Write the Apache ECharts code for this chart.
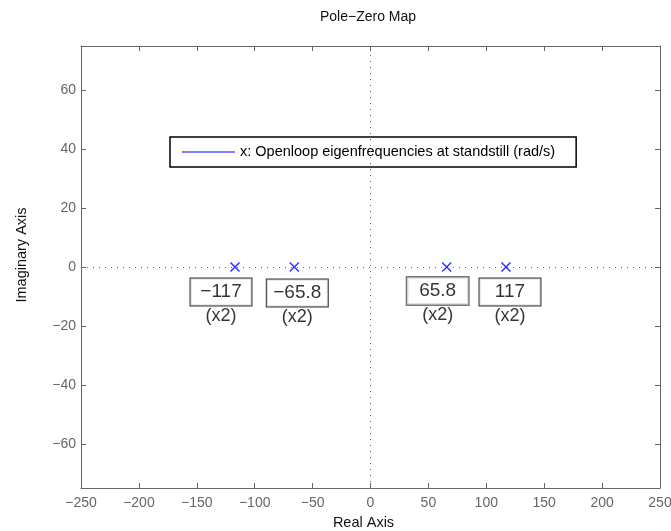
<!DOCTYPE html>
<html>
<head>
<meta charset="utf-8">
<script src="https://cdn.jsdelivr.net/npm/echarts@6/dist/echarts.min.js"></script>
<style>
  html, body { margin: 0; padding: 0; background: #fff; }
  #chart { width: 671px; height: 531px; }
</style>
</head>
<body>
<div id="chart"></div>
<script>
// poles (real, imag) and datatip text
const poleReal = [-117, -65.8, 65.8, 117];
const poleImag = [0, 0, 0, 0];
const poleText = ['−117', '−65.8', '65.8', '117'];
const poleMult = ['(x2)', '(x2)', '(x2)', '(x2)'];
const legendName = 'x: Openloop eigenfrequencies at standstill (rad/s)';
const yTicks = [-60, -40, -20, 0, 20, 40, 60];

// datatip placement (pixels from the marker), as placed in the figure
const tipOffsets = [[-14, 36], [3, 37], [-9, 35], [4, 36]];

const minus = v => String(v).replace('-', '−');
const FONT = 'Liberation Sans, Arial, sans-serif';

const chart = echarts.init(document.getElementById('chart'));

const poleData = poleReal.map((x, i) => ({
    value: [x, poleImag[i]],
    label: {
        show: true,
        position: 'inside',
        offset: tipOffsets[i],
        formatter: '{box|' + poleText[i] + '}\n{mult|' + poleMult[i] + '}',
        rich: {
            box: {
                fontFamily: FONT, fontSize: 19, color: '#000',
                borderColor: i === 2 ? '#555' : '#000', borderWidth: i === 2 ? 1.5 : 1,
                width: 61, height: 27, lineHeight: 27, align: 'center',
                backgroundColor: '#fff'
            },
            mult: {
                fontFamily: FONT, fontSize: 18, color: '#000',
                lineHeight: 22, align: 'center'
            }
        }
    }
}));

chart.setOption({
    animation: false,
    title: {
        text: 'Pole−Zero Map',
        left: 363,
        textAlign: 'center',
        top: 5,
        textStyle: {fontFamily: FONT, fontSize: 14, fontWeight: 'normal', color: '#111'}
    },
    grid: {left: 81, right: 11, top: 46, bottom: 43, outerBoundsMode: 'none', containLabel: false},
    legend: {
        data: [{name: legendName, itemStyle: {color: '#0000ff'}}],
        left: 170,
        top: 137,
        orient: 'horizontal',
        icon: 'rect',
        itemWidth: 53,
        itemHeight: 1,
        padding: [7, 21, 7, 12],
        borderColor: '#000',
        borderWidth: 1.5,
        backgroundColor: '#fff',
        selectedMode: false,
        textStyle: {fontFamily: FONT, fontSize: 14.5, color: '#000', lineHeight: 16}
    },
    xAxis: [{
        type: 'value',
        min: -250, max: 250, interval: 50,
        name: 'Real Axis',
        nameLocation: 'middle',
        nameGap: 27,
        nameTextStyle: {fontFamily: FONT, fontSize: 14.5, color: '#111', padding: [0, 14, 0, 0]},
        axisLine: {onZero: false, lineStyle: {color: '#666', width: 1}},
        axisTick: {inside: true, length: 5, lineStyle: {color: '#666'}},
        axisLabel: {fontFamily: FONT, fontSize: 14, color: '#666', margin: 8, formatter: minus},
        splitLine: {show: false}
    }, {
        type: 'value',
        position: 'top',
        min: -250, max: 250, interval: 50,
        axisLine: {onZero: false, lineStyle: {color: '#666', width: 1}},
        axisTick: {inside: true, length: 5, lineStyle: {color: '#666'}},
        axisLabel: {show: false},
        splitLine: {show: false}
    }],
    yAxis: [{
        type: 'value',
        min: -75, max: 75,
        name: 'Imaginary Axis',
        nameLocation: 'middle',
        nameGap: 52,
        nameTextStyle: {fontFamily: FONT, fontSize: 14.5, color: '#111', padding: [0, 0, 0, 24]},
        axisLine: {onZero: false, lineStyle: {color: '#666', width: 1}},
        axisTick: {inside: true, length: 5, lineStyle: {color: '#666'}, customValues: yTicks},
        axisLabel: {fontFamily: FONT, fontSize: 14, color: '#666', margin: 5, formatter: minus, customValues: yTicks},
        splitLine: {show: false}
    }, {
        type: 'value',
        position: 'right',
        min: -75, max: 75,
        axisLine: {onZero: false, lineStyle: {color: '#666', width: 1}},
        axisTick: {inside: true, length: 5, lineStyle: {color: '#666'}, customValues: yTicks},
        axisLabel: {show: false},
        splitLine: {show: false}
    }],
    series: [{
        name: 'axes0',
        type: 'scatter',
        symbolSize: 0,
        data: [[0, 0]],
        markLine: {
            silent: true,
            symbol: 'none',
            label: {show: false},
            lineStyle: {color: '#666', type: [1, 5], width: 1},
            data: [{xAxis: 0}, {yAxis: 0}]
        }
    }, {
        name: 'poles',
        type: 'scatter',
        symbol: 'path://M0,0L10,10M10,0L0,10',
        symbolSize: 9,
        itemStyle: {color: 'transparent', borderColor: '#0000ff', borderWidth: 1.5},
        data: poleData,
        z: 5
    }, {
        name: legendName,
        type: 'line',
        color: '#0000ff',
        data: [],
        itemStyle: {color: '#0000ff'},
        lineStyle: {color: '#0000ff'}
    }]
});
</script>
</body>
</html>
